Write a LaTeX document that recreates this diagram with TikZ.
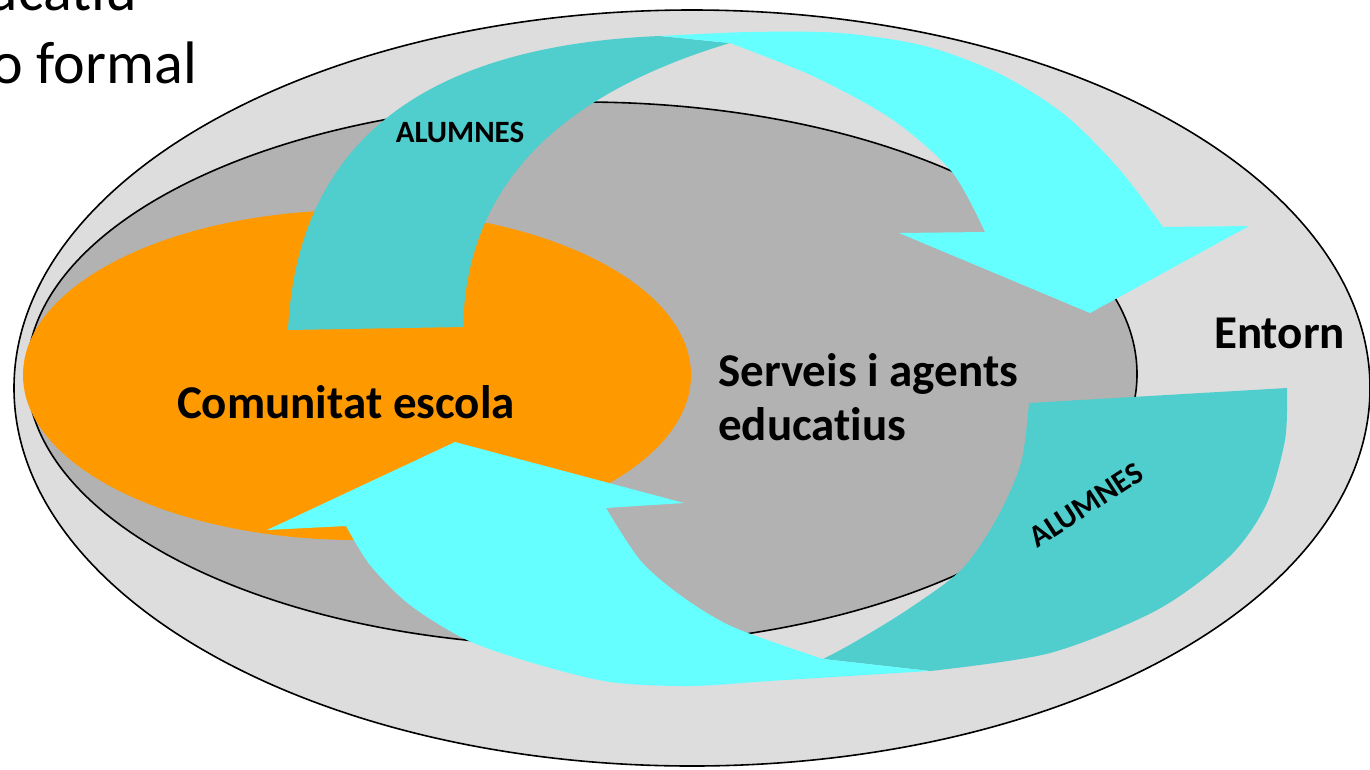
\documentclass[tikz,border=0pt]{standalone}
\usepackage{fontspec}
\setmainfont{Carlito}[Ligatures=NoCommon]
\definecolor{entorngray}{HTML}{DDDDDD}
\definecolor{serveisgray}{HTML}{B2B2B2}
\definecolor{escolaorange}{HTML}{FF9900}
\definecolor{arrowteal}{HTML}{50CDCD}
\definecolor{arrowcyan}{HTML}{66FFFF}

\begin{document}
\begin{tikzpicture}[x=1pt,y=-1pt,
    bigtext/.style={font=\fontsize{47}{54}\selectfont\bfseries, inner sep=0pt},
    alumtext/.style={font=\fontsize{31}{36}\selectfont\bfseries, inner sep=0pt},
    titletext/.style={font=\fontsize{60}{72}\selectfont, inner sep=0pt, anchor=base east}]
  \useasboundingbox (0,0) rectangle (1370,769);
  \clip (0,0) rectangle (1370,769);
  \node[titletext] (educatiu) at (137,10) {educatiu};
  \node[titletext] (noformal) at (197,83) {no formal};
  \filldraw[fill=entorngray, line width=1.6pt] (692,388) ellipse [x radius=678, y radius=378];
  \filldraw[fill=serveisgray, line width=1.6pt] (582,374) ellipse [x radius=555, y radius=272];
  \fill[escolaorange] (357,375) ellipse [x radius=334, y radius=165];
  \fill[arrowteal] (288,330) .. controls (298,130) and (440,45) .. (660,36)
    -- (730,43) .. controls (540,100) and (466,200) .. (463,327) -- cycle;
  \fill[arrowcyan] plot[smooth] coordinates {(660,36) (750,32) (840,33) (925,46) (1000,74) (1065,115) (1120,170) (1163,227)}
    -- (1249,226) -- (1090,313) -- (899,233)
    -- plot[smooth] coordinates {(985,232) (952,172) (893,120) (815,77) (730,43)} -- cycle;
  \fill[arrowteal] (1029,403) -- plot[smooth] coordinates {(1287,388) (1285,440) (1266,505) (1229,557) (1157,610) (1050,653) (930,671)}
    -- plot[smooth] coordinates {(823,659) (853,643) (907,610) (961,570) (996,520) (1021,463) (1029,403)} -- cycle;
  \fill[arrowcyan] plot[smooth] coordinates {(930,671) (850,676) (770,681) (690,686) (610,682) (533,663) (467,640) (410,605) (370,565) (346,526)}
    -- (267,530) -- (455,442) -- (684,503)
    -- plot[smooth] coordinates {(606,508) (640,560) (680,595) (733,627) (823,659)} -- cycle;
  \node[bigtext, anchor=base] (comunitat) at (346,418) {Comunitat escola};
  \node[bigtext, anchor=base west, align=left] (serveis) at (718,440) {Serveis i agents\\educatius};
  \node[bigtext, anchor=base west] (entorn) at (1214,348) {Entorn};
  \node[alumtext, anchor=base] (alumnesup) at (460,142) {ALUMNES};
  \node[alumtext, rotate=33] (alumnesdown) at (1086,505) {ALUMNES};
\end{tikzpicture}
\end{document}
